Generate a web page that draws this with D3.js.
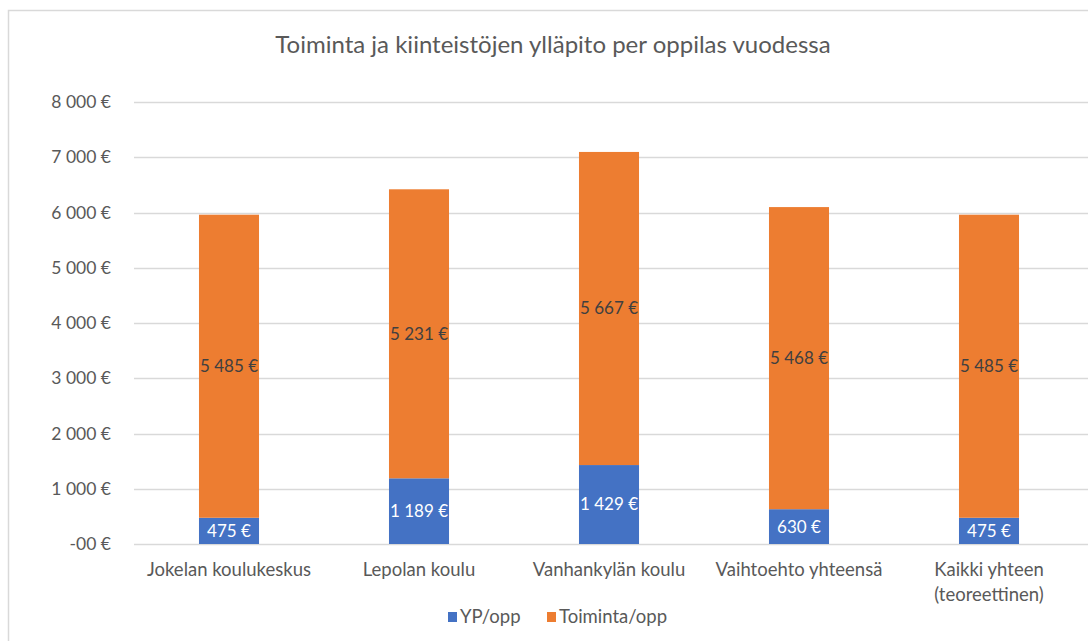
<!DOCTYPE html>
<html>
<head>
<meta charset="utf-8">
<script src="https://cdn.jsdelivr.net/npm/d3@7"></script>
<style>
  body { margin: 0; background: #fff; }
  text { font-family: Lato, "Open Sans", sans-serif; }
</style>
</head>
<body>
<div id="chart"></div>
<script>
// data
var categories = ["Jokelan koulukeskus", "Lepolan koulu", "Vanhankylän koulu", "Vaihtoehto yhteensä", "Kaikki yhteen (teoreettinen)"];
var ypValues = [475, 1189, 1429, 630, 475];
var toimintaValues = [5485, 5231, 5667, 5468, 5485];
var seriesNames = ["YP/opp", "Toiminta/opp"];
var yTicks = [0, 1000, 2000, 3000, 4000, 5000, 6000, 7000, 8000];

var W = 1088, H = 641;
var margin = { top: 102, left: 134, right: 4, bottom: 97 };
var width = W - margin.left - margin.right,
    height = H - margin.top - margin.bottom;

var svg = d3.select("#chart").append("svg")
    .attr("width", W)
    .attr("height", H);

// chart frame
svg.append("rect")
    .attr("x", 8.5).attr("y", 10.5)
    .attr("width", 1200).attr("height", 700)
    .attr("fill", "none")
    .attr("stroke", "#d9d9d9")
    .attr("stroke-width", 1.5);

svg.append("text")
    .attr("x", 553).attr("y", 53)
    .attr("text-anchor", "middle")
    .attr("font-size", 24)
    .attr("fill", "#595959")
    .text("Toiminta ja kiinteistöjen ylläpito per oppilas vuodessa");

var g = svg.append("g")
    .attr("transform", "translate(" + margin.left + "," + margin.top + ")");

var x = d3.scaleBand().domain(categories).range([0, 950]).paddingInner(0.684).paddingOuter(0.342);
var y = d3.scaleLinear().domain([0, 8000]).range([height, 0]);

var fmt = function (v) {
    if (v === 0) return "-00 €";
    return d3.format(",")(v).replace(/,/g, " ") + " €";
};

// gridlines
g.selectAll(".grid")
    .data(yTicks)
    .enter().append("line")
    .attr("x1", 0).attr("x2", width + 10)
    .attr("y1", function (d) { return Math.round(y(d)) + 0.5; })
    .attr("y2", function (d) { return Math.round(y(d)) + 0.5; })
    .attr("stroke", "#d9d9d9")
    .attr("stroke-width", 1.3);

// y axis labels
var yAxis = d3.axisLeft(y).tickValues(yTicks).tickFormat(fmt).tickSize(0).tickPadding(23);
var ya = g.append("g").call(yAxis);
ya.select(".domain").remove();
ya.selectAll("text")
    .attr("font-size", 17.5)
    .attr("fill", "#595959")
    .style("font-family", "Lato, sans-serif");

var rows = categories.map(function (c, i) {
    return { cat: c, yp: ypValues[i], toim: toimintaValues[i] };
});

// blue segments
g.selectAll(".yp")
    .data(rows)
    .enter().append("rect")
    .attr("x", function (d) { return x(d.cat); })
    .attr("width", x.bandwidth())
    .attr("y", function (d) { return y(d.yp); })
    .attr("height", function (d) { return y(0) - y(d.yp); })
    .attr("fill", "#4472c4");

// orange segments
g.selectAll(".toim")
    .data(rows)
    .enter().append("rect")
    .attr("x", function (d) { return x(d.cat); })
    .attr("width", x.bandwidth())
    .attr("y", function (d) { return y(d.yp + d.toim); })
    .attr("height", function (d) { return y(d.yp) - y(d.yp + d.toim); })
    .attr("fill", "#ed7d31");

// value labels
g.selectAll(".yplab")
    .data(rows)
    .enter().append("text")
    .attr("x", function (d) { return x(d.cat) + x.bandwidth() / 2; })
    .attr("y", function (d) { return y(d.yp / 2); })
    .attr("dy", "0.35em")
    .attr("text-anchor", "middle")
    .attr("font-size", 17)
    .attr("fill", "#ffffff")
    .text(function (d) { return fmt(d.yp); });

g.selectAll(".toimlab")
    .data(rows)
    .enter().append("text")
    .attr("x", function (d) { return x(d.cat) + x.bandwidth() / 2; })
    .attr("y", function (d) { return y(d.yp + d.toim / 2); })
    .attr("dy", "0.35em")
    .attr("text-anchor", "middle")
    .attr("font-size", 17)
    .attr("fill", "#404040")
    .text(function (d) { return fmt(d.toim); });

// category labels (wrap the long one)
var catLines = {
    "Kaikki yhteen (teoreettinen)": ["Kaikki yhteen", "(teoreettinen)"]
};
g.selectAll(".cat")
    .data(categories)
    .enter().append("text")
    .attr("x", function (d) { return x(d) + x.bandwidth() / 2; })
    .attr("y", height + 32)
    .attr("text-anchor", "middle")
    .attr("font-size", 18.5)
    .attr("fill", "#595959")
    .each(function (d) {
        var lines = catLines[d] || [d];
        var t = d3.select(this);
        lines.forEach(function (l, i) {
            t.append("tspan")
                .attr("x", x(d) + x.bandwidth() / 2)
                .attr("dy", i === 0 ? 0 : 25)
                .text(l);
        });
    });

// legend
var colors = ["#4472c4", "#ed7d31"];
var legX = [448, 547];
var leg = svg.selectAll(".leg")
    .data(seriesNames)
    .enter().append("g")
    .attr("transform", function (d, i) { return "translate(" + legX[i] + ",612)"; });
leg.append("rect")
    .attr("width", 9).attr("height", 10)
    .attr("fill", function (d, i) { return colors[i]; });
leg.append("text")
    .attr("x", 12).attr("y", 11)
    .attr("font-size", 18.5)
    .attr("fill", "#595959")
    .text(function (d) { return d; });
</script>
</body>
</html>
